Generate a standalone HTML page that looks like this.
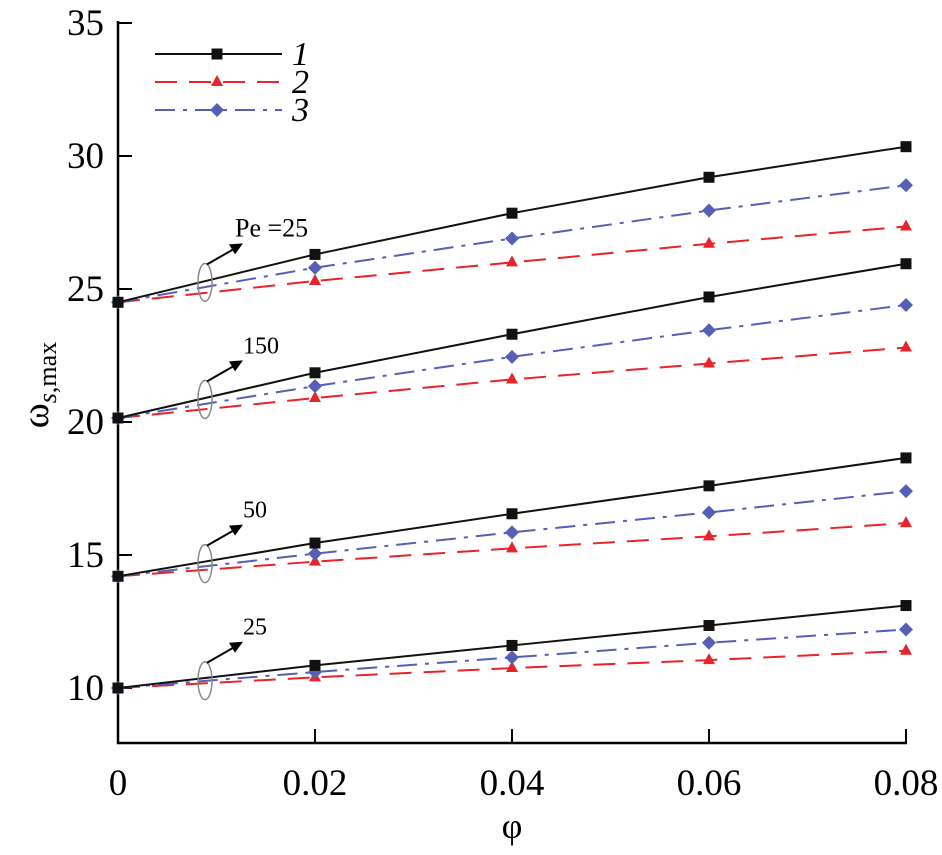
<!DOCTYPE html>
<html><head><meta charset="utf-8"><style>
body{margin:0;background:#fff}
svg{display:block;font-family:"Liberation Serif",serif}
</style></head><body>
<svg id="chart" width="942" height="855" viewBox="0 0 942 855">
<g id="axes"></g><g id="series"></g><g id="ann"></g><g id="legend"></g>
</svg>
<script>
const xVals=[0,0.02,0.04,0.06,0.08];
const xTicks=["0","0.02","0.04","0.06","0.08"];
const yTicks=[10,15,20,25,30,35];
const s1_pe25b=[24.5,26.3,27.85,29.2,30.35];
const s3_pe25b=[24.5,25.8,26.9,27.95,28.9];
const s2_pe25b=[24.5,25.3,26.0,26.7,27.35];
const s1_pe150=[20.15,21.85,23.3,24.7,25.95];
const s3_pe150=[20.15,21.35,22.45,23.45,24.4];
const s2_pe150=[20.15,20.9,21.6,22.2,22.8];
const s1_pe50=[14.2,15.45,16.55,17.6,18.65];
const s3_pe50=[14.2,15.05,15.85,16.6,17.4];
const s2_pe50=[14.2,14.75,15.25,15.7,16.2];
const s1_pe25=[10,10.85,11.6,12.35,13.1];
const s3_pe25=[10,10.6,11.15,11.7,12.2];
const s2_pe25=[10,10.4,10.75,11.05,11.4];
const groupLabels=["Pe =25","150","50","25"];

const NS="http://www.w3.org/2000/svg";
const X=v=>118+v/0.08*788;
const Y=v=>688-(v-10)*26.6;
function mk(t,a,p){const e=document.createElementNS(NS,t);for(const k in a)e.setAttribute(k,a[k]);p.appendChild(e);return e;}
const axes=document.getElementById('axes');
let e=mk('path',{d:`M118 ${Y(35)-2} V743 H907`,stroke:'#000','stroke-width':2.5,fill:'none'},axes);

yTicks.forEach(v=>{
 let t=mk('line',{x1:118,x2:132,y1:Y(v),y2:Y(v),stroke:'#000','stroke-width':2},axes);
 
 let l=mk('text',{x:104,y:Y(v)+12,'text-anchor':'end','font-size':37},axes);l.textContent=v;
 
});
xVals.forEach((v,i)=>{
 if(i>0){let t=mk('line',{x1:X(v),x2:X(v),y1:743,y2:729,stroke:'#000','stroke-width':2},axes);
 }
 let l=mk('text',{x:X(v),y:795,'text-anchor':'middle','font-size':37},axes);l.textContent=xTicks[i];
 
});
let xt=mk('text',{x:512,y:838,'text-anchor':'middle','font-size':36},axes);xt.textContent='φ';

let yt=mk('text',{transform:'translate(48,385) rotate(-90)','text-anchor':'middle','font-size':38},axes);
yt.innerHTML='ω<tspan font-size="26" dy="8" font-style="italic">s</tspan><tspan font-size="26">,max</tspan>';


const styles=[
 {c:'#111',d:'',m:'sq',n:'1'},
 {c:'#e8232b',d:'22,12',m:'tri',n:'2'},
 {c:'#5560b5',d:'20,8,4,8',m:'dia',n:'3'}];
function marker(t,x,y,c,p){
 let m;
 if(t==='sq')m=mk('rect',{x:x-5.5,y:y-5.5,width:11,height:11,fill:c},p);
 else if(t==='tri')m=mk('polygon',{points:`${x},${y-7} ${x-6},${y+4} ${x+6},${y+4}`,fill:c},p);
 else m=mk('polygon',{points:`${x},${y-7} ${x+7},${y} ${x},${y+7} ${x-7},${y}`,fill:c},p);
 return m;}
const groups=[[s1_pe25b,s2_pe25b,s3_pe25b],[s1_pe150,s2_pe150,s3_pe150],[s1_pe50,s2_pe50,s3_pe50],[s1_pe25,s2_pe25,s3_pe25]];
const ser=document.getElementById('series');
groups.forEach((g,gi)=>{
 [1,2,0].forEach(si=>{
  const arr=g[si],st=styles[si];
  const pl=mk('polyline',{points:arr.map((v,i)=>X(xVals[i])+','+Y(v)).join(' '),fill:'none',stroke:st.c,'stroke-width':2,'stroke-dasharray':st.d},ser);
  
  arr.forEach((v,i)=>{const m=marker(st.m,X(xVals[i]),Y(v),st.c,ser);
   });
 });
});
const ann=document.getElementById('ann');
groups.forEach((g,gi)=>{
 const ex=205,ey=Y((g[0][0]+g[0][1])/2)+4;
 let el=mk('ellipse',{cx:ex,cy:ey,rx:7,ry:19,fill:'none',stroke:'#888','stroke-width':1.5},ann);
 
 let ar=mk('line',{x1:ex+2,y1:ey-18,x2:ex+30,y2:ey-34,stroke:'#000','stroke-width':2},ann);
 
 let hd=mk('polygon',{points:`${ex+38},${ey-39} ${ex+24},${ey-38} ${ex+30},${ey-28}`,fill:'#000'},ann);
 
 let tx=mk('text',{x:ex+(gi===0?30:38),y:ey-46,'font-size':gi===0?26:24},ann);tx.textContent=groupLabels[gi];
 
});
const lg=document.getElementById('legend');
styles.forEach((st,i)=>{
 const y=54+i*28;
 let ln=mk('line',{x1:155,x2:282,y1:y,y2:y,stroke:st.c,'stroke-width':2,'stroke-dasharray':st.d},lg);
 
 marker(st.m,217,y,st.c,lg);
 let t=mk('text',{x:292,y:y+11,'font-size':34,'font-style':'italic'},lg);t.textContent=st.n;
 
});
</script>
</body></html>
